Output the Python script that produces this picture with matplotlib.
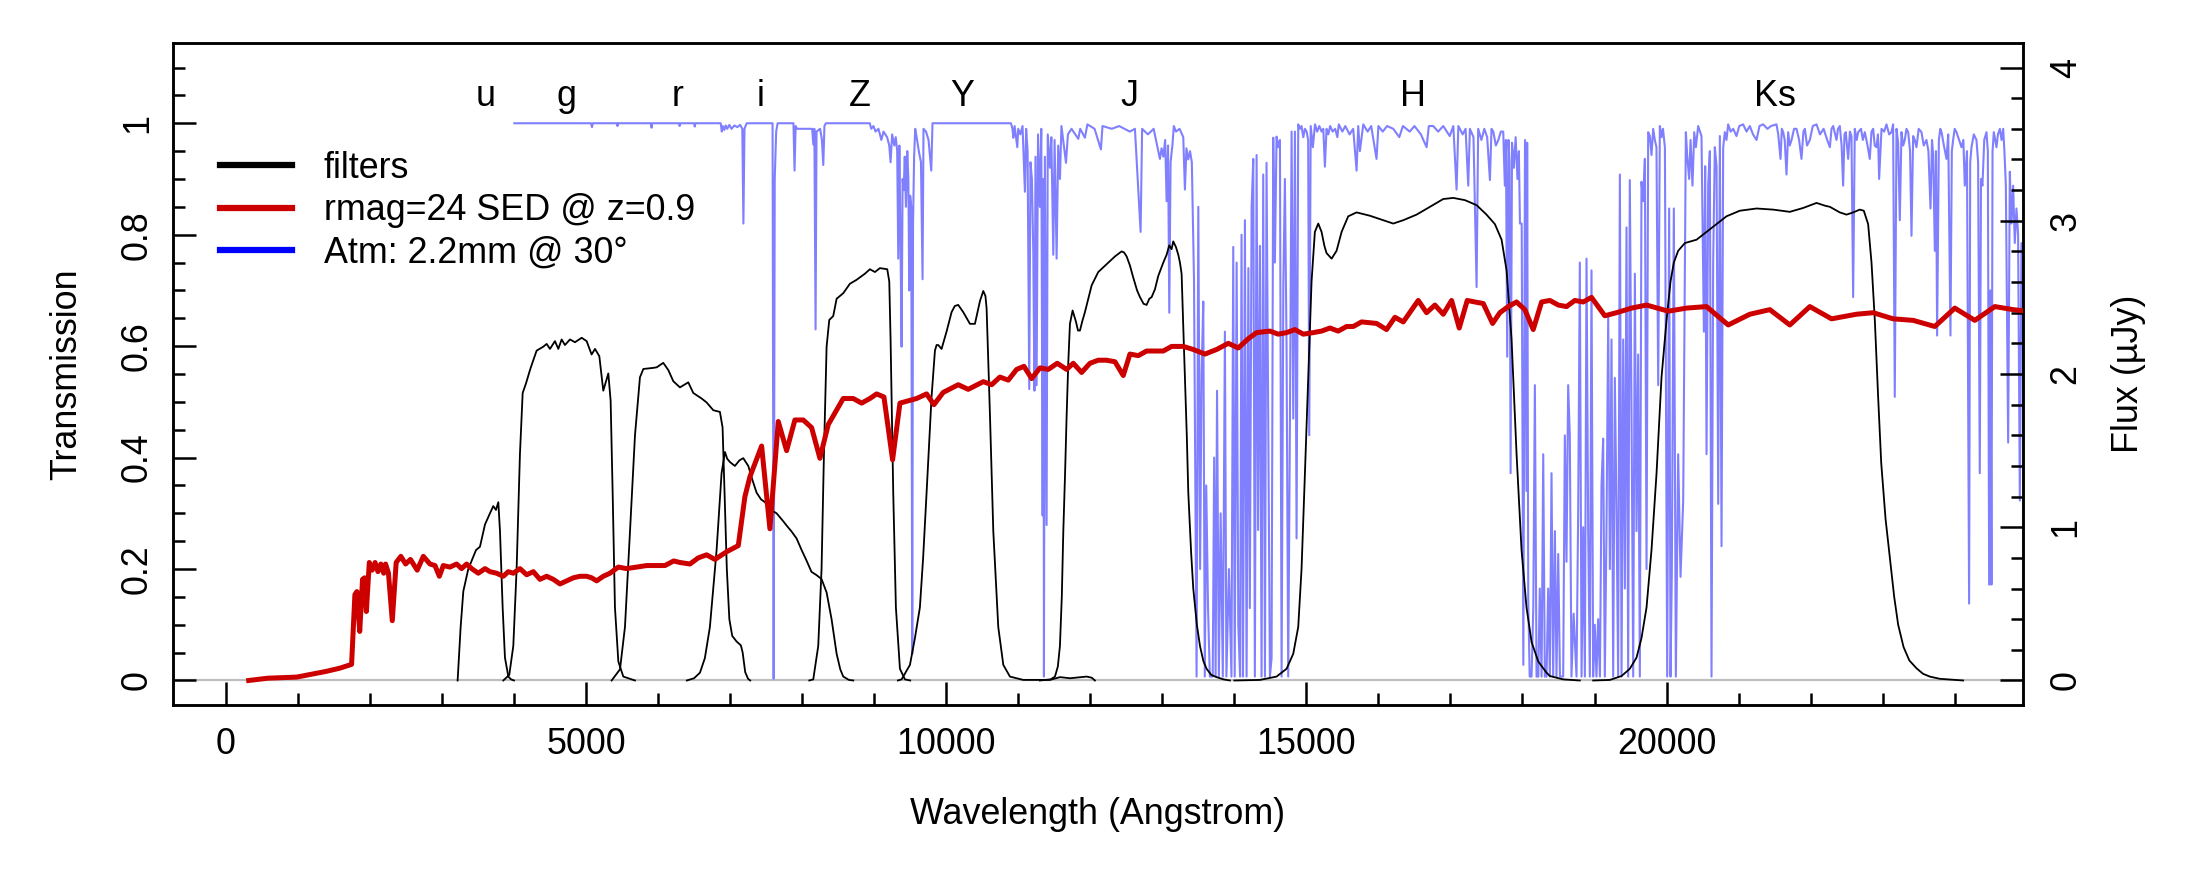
import matplotlib
matplotlib.use("Agg")
import matplotlib.pyplot as plt
from matplotlib.lines import Line2D
from matplotlib.ticker import MultipleLocator, FixedLocator

plt.rcParams['font.family'] = ['Liberation Sans', 'DejaVu Sans']

# ---------------- data (wavelength in Angstrom) ----------------
filt_u = [(3218, 0.0), (3260, 0.096), (3297, 0.16), (3366, 0.20), (3473, 0.234), (3528, 0.24),
          (3598, 0.28), (3667, 0.30), (3713, 0.313), (3750, 0.306), (3783, 0.32), (3806, 0.268),
          (3843, 0.131), (3875, 0.041), (3922, 0.007), (3960, 0.002), (4000, 0.0)]
filt_g = [(3852, 0.0), (3935, 0.01), (3991, 0.062), (4037, 0.2), (4083, 0.406), (4121, 0.516),
          (4167, 0.533), (4222, 0.557), (4269, 0.575), (4315, 0.592), (4407, 0.599), (4454, 0.604),
          (4500, 0.595), (4569, 0.609), (4616, 0.595), (4662, 0.612), (4708, 0.602), (4778, 0.612),
          (4847, 0.607), (4940, 0.615), (5009, 0.609), (5078, 0.585), (5125, 0.595), (5185, 0.582),
          (5240, 0.52), (5310, 0.551), (5342, 0.502), (5370, 0.337), (5402, 0.131), (5449, 0.034),
          (5518, 0.007), (5680, 0.0)]
filt_r = [(5356, 0.0), (5472, 0.02), (5541, 0.096), (5611, 0.268), (5680, 0.44), (5749, 0.544),
          (5796, 0.559), (5934, 0.561), (5981, 0.562), (6073, 0.57), (6143, 0.557), (6212, 0.537),
          (6304, 0.526), (6420, 0.535), (6489, 0.516), (6605, 0.506), (6674, 0.499), (6767, 0.485),
          (6859, 0.482), (6896, 0.454), (6925, 0.33), (6955, 0.2), (6990, 0.11), (7030, 0.08),
          (7090, 0.07), (7150, 0.063), (7175, 0.05), (7210, 0.015), (7250, 0.003), (7280, 0.0)]
filt_i = [(6400, 0.0), (6500, 0.004), (6582, 0.014), (6650, 0.04), (6720, 0.096), (6813, 0.234),
          (6882, 0.372), (6929, 0.41), (6960, 0.398), (6998, 0.392), (7067, 0.385), (7130, 0.395),
          (7183, 0.399), (7253, 0.385), (7310, 0.36), (7368, 0.337), (7430, 0.325), (7484, 0.32),
          (7579, 0.305), (7646, 0.30), (7743, 0.285), (7785, 0.278), (7850, 0.268), (7923, 0.255),
          (7990, 0.235), (8062, 0.215), (8130, 0.195), (8201, 0.189), (8270, 0.182), (8340, 0.158),
          (8409, 0.11), (8479, 0.048), (8530, 0.02), (8571, 0.007), (8650, 0.001), (8710, 0.0)]
filt_Z = [(8100, 0.0), (8155, 0.002), (8224, 0.062), (8270, 0.2), (8303, 0.406), (8340, 0.599),
          (8377, 0.647), (8432, 0.654), (8479, 0.685), (8571, 0.695), (8664, 0.712), (8756, 0.719),
          (8872, 0.73), (8941, 0.738), (9011, 0.733), (9080, 0.74), (9182, 0.738), (9210, 0.716),
          (9228, 0.613), (9265, 0.337), (9302, 0.131), (9358, 0.021), (9427, 0.002), (9500, 0.0)]
filt_Y = [(9330, 0.0), (9381, 0.002), (9497, 0.028), (9566, 0.076), (9635, 0.131), (9680, 0.22),
          (9728, 0.337), (9797, 0.509), (9844, 0.592), (9867, 0.602), (9890, 0.602), (9936, 0.595),
          (10005, 0.626), (10075, 0.661), (10120, 0.672), (10167, 0.674), (10237, 0.661),
          (10330, 0.64), (10399, 0.64), (10469, 0.681), (10515, 0.699), (10545, 0.69),
          (10561, 0.668), (10590, 0.55), (10608, 0.475), (10654, 0.268), (10723, 0.096),
          (10793, 0.028), (10885, 0.007), (11070, 0.001), (11440, 0.001), (11580, 0.006),
          (11720, 0.004), (11950, 0.007), (12020, 0.005), (12065, 0.0)]
filt_J = [(11300, 0.0), (11450, 0.002), (11510, 0.007), (11550, 0.025), (11579, 0.062),
          (11605, 0.15), (11626, 0.268), (11650, 0.37), (11672, 0.475), (11695, 0.57),
          (11718, 0.64), (11755, 0.664), (11801, 0.644), (11830, 0.628), (11857, 0.628),
          (11890, 0.645), (11926, 0.661), (12019, 0.709), (12111, 0.733), (12227, 0.747),
          (12343, 0.761), (12435, 0.77), (12470, 0.768), (12505, 0.761), (12550, 0.745),
          (12597, 0.723), (12650, 0.70), (12690, 0.688), (12740, 0.676), (12782, 0.674),
          (12820, 0.685), (12852, 0.688), (12898, 0.702), (12944, 0.726), (13014, 0.75),
          (13060, 0.764), (13097, 0.781), (13129, 0.774), (13152, 0.788), (13189, 0.778),
          (13222, 0.764), (13245, 0.75), (13268, 0.73), (13290, 0.64), (13314, 0.544),
          (13340, 0.44), (13361, 0.337), (13400, 0.23), (13430, 0.165), (13480, 0.10),
          (13523, 0.062), (13570, 0.035), (13615, 0.021), (13680, 0.01), (13754, 0.006),
          (13850, 0.002), (13939, 0.0)]
filt_H = [(14000, 0.0), (14355, 0.001), (14586, 0.007), (14725, 0.021), (14818, 0.048),
          (14887, 0.096), (14933, 0.2), (14980, 0.372), (15026, 0.544), (15072, 0.716),
          (15118, 0.805), (15165, 0.82), (15211, 0.805), (15250, 0.78), (15280, 0.767),
          (15350, 0.757), (15419, 0.771), (15489, 0.805), (15581, 0.833), (15697, 0.84),
          (15882, 0.834), (16067, 0.826), (16206, 0.82), (16345, 0.826), (16530, 0.836),
          (16715, 0.85), (16900, 0.864), (17039, 0.866), (17201, 0.862), (17363, 0.853),
          (17501, 0.836), (17617, 0.819), (17710, 0.791), (17779, 0.736), (17848, 0.613),
          (17918, 0.406), (17987, 0.234), (18056, 0.131), (18126, 0.069), (18219, 0.034),
          (18334, 0.014), (18380, 0.008), (18565, 0.002), (18796, 0.0)]
filt_Ks = [(18981, 0.0), (19213, 0.001), (19375, 0.008), (19490, 0.021), (19583, 0.041),
           (19652, 0.076), (19722, 0.131), (19791, 0.234), (19861, 0.372), (19930, 0.544),
           (20000, 0.647), (20055, 0.716), (20101, 0.75), (20161, 0.771), (20254, 0.785),
           (20416, 0.791), (20555, 0.805), (20694, 0.819), (20832, 0.833), (21017, 0.843),
           (21249, 0.847), (21480, 0.845), (21711, 0.841), (21897, 0.848), (22082, 0.857),
           (22200, 0.852), (22267, 0.85), (22405, 0.84), (22498, 0.836), (22590, 0.84),
           (22683, 0.845), (22738, 0.843), (22798, 0.819), (22845, 0.75), (22891, 0.647),
           (22937, 0.509), (22980, 0.39), (23040, 0.29), (23100, 0.22), (23160, 0.15),
           (23215, 0.10), (23290, 0.06), (23370, 0.036), (23469, 0.022), (23560, 0.012),
           (23654, 0.007), (23793, 0.003), (24117, 0.0)]
filters = [filt_u, filt_g, filt_r, filt_i, filt_Z, filt_Y, filt_J, filt_H, filt_Ks]

band_names = ['u', 'g', 'r', 'i', 'Z', 'Y', 'J', 'H', 'Ks']
band_label_wave = [3602, 4730, 6270, 7430, 8800, 10220, 12550, 16480, 21500]

# SED of rmag=24 galaxy at z=0.9 (flux in microJansky)
sed = [(318, 0.0), (584, 0.015), (982, 0.022), (1380, 0.058), (1580, 0.08), (1746, 0.105),
       (1792, 0.56), (1820, 0.58), (1859, 0.32), (1898, 0.66), (1925, 0.67), (1951, 0.45),
       (1992, 0.77), (2032, 0.72), (2072, 0.77), (2112, 0.71), (2152, 0.76), (2192, 0.70),
       (2218, 0.76), (2258, 0.70), (2311, 0.39), (2365, 0.77), (2430, 0.81), (2496, 0.76),
       (2563, 0.79), (2657, 0.72), (2742, 0.81), (2834, 0.76), (2904, 0.75), (2964, 0.68),
       (3019, 0.75), (3111, 0.74), (3204, 0.76), (3273, 0.73), (3343, 0.76), (3413, 0.73),
       (3505, 0.70), (3598, 0.73), (3667, 0.71), (3759, 0.70), (3852, 0.68), (3921, 0.71),
       (3991, 0.70), (4083, 0.73), (4176, 0.69), (4269, 0.71), (4361, 0.66), (4454, 0.68),
       (4546, 0.66), (4639, 0.63), (4731, 0.65), (4824, 0.67), (4916, 0.68), (5009, 0.68),
       (5078, 0.67), (5148, 0.65), (5240, 0.68), (5333, 0.70), (5449, 0.74), (5564, 0.73),
       (5703, 0.74), (5842, 0.75), (6096, 0.75), (6217, 0.78), (6304, 0.77), (6443, 0.76),
       (6558, 0.80), (6674, 0.82), (6790, 0.79), (6952, 0.84), (7114, 0.88), (7206, 1.20),
       (7276, 1.33), (7438, 1.53), (7553, 0.99), (7669, 1.69), (7785, 1.50), (7900, 1.70),
       (8016, 1.70), (8132, 1.65), (8247, 1.45), (8363, 1.67), (8571, 1.84), (8710, 1.84),
       (8826, 1.81), (8941, 1.84), (9034, 1.87), (9136, 1.85), (9256, 1.44), (9358, 1.81),
       (9589, 1.84), (9728, 1.87), (9830, 1.80), (9959, 1.88), (10167, 1.93), (10306, 1.90),
       (10515, 1.95), (10631, 1.93), (10746, 1.98), (10862, 1.96), (10978, 2.03), (11080, 2.05),
       (11186, 1.97), (11302, 2.04), (11417, 2.03), (11542, 2.07), (11672, 2.03), (11764, 2.07),
       (11880, 2.01), (11996, 2.07), (12111, 2.09), (12227, 2.09), (12343, 2.08), (12458, 1.99),
       (12551, 2.13), (12667, 2.12), (12782, 2.15), (13014, 2.15), (13129, 2.18), (13291, 2.18),
       (13430, 2.16), (13592, 2.13), (13754, 2.16), (13916, 2.20), (14055, 2.17), (14193, 2.23),
       (14309, 2.27), (14494, 2.28), (14609, 2.26), (14725, 2.27), (14841, 2.29), (14957, 2.26),
       (15095, 2.27), (15211, 2.28), (15327, 2.30), (15442, 2.28), (15558, 2.31), (15651, 2.31),
       (15766, 2.34), (15974, 2.33), (16113, 2.29), (16229, 2.37), (16345, 2.34), (16553, 2.48),
       (16669, 2.40), (16784, 2.45), (16900, 2.39), (17016, 2.48), (17122, 2.30), (17233, 2.48),
       (17339, 2.47), (17455, 2.46), (17585, 2.33), (17686, 2.40), (17802, 2.44), (17918, 2.47),
       (18033, 2.42), (18149, 2.29), (18265, 2.47), (18380, 2.48), (18496, 2.45), (18611, 2.44),
       (18727, 2.48), (18843, 2.47), (18958, 2.50), (19143, 2.38), (19305, 2.40), (19514, 2.43),
       (19722, 2.45), (20023, 2.41), (20277, 2.43), (20555, 2.44), (20856, 2.32), (21156, 2.39),
       (21434, 2.42), (21711, 2.32), (21989, 2.44), (22290, 2.36), (22636, 2.39), (22868, 2.40),
       (23145, 2.36), (23423, 2.35), (23724, 2.31), (24001, 2.43), (24279, 2.35), (24557, 2.44),
       (24811, 2.42), (25000, 2.41)]

# Atmospheric transmission (2.2 mm PWV at 30 deg)
atm_optical = [(4005, 1.0), (4600, 1.0), (5070, 1.0), (5083, 0.993), (5095, 1.0), (5430, 1.0),
               (5437, 0.995), (5445, 1.0), (5900, 1.0), (5910, 0.992), (5920, 1.0), (6290, 1.0),
               (6300, 0.995), (6310, 1.0), (6500, 1.0), (6510, 0.994), (6520, 1.0), (6870, 1.0),
               (6885, 0.985), (6900, 0.995), (6920, 0.988), (6940, 0.996), (6960, 0.99),
               (6990, 0.997), (7020, 0.99), (7060, 0.996), (7100, 0.993), (7140, 0.997),
               (7170, 0.99), (7185, 0.82), (7200, 0.99), (7230, 1.0), (7590, 1.0), (7605, 0.003),
               (7620, 0.9), (7640, 0.985), (7660, 1.0), (7880, 1.0), (7895, 0.915), (7910, 0.995),
               (7930, 0.99), (8140, 0.99), (8155, 0.962), (8170, 0.99), (8187, 0.63), (8200, 0.985),
               (8250, 0.99), (8275, 0.97), (8294, 0.925), (8310, 0.995), (8330, 1.0), (8940, 1.0),
               (8960, 0.99), (8990, 0.995), (9020, 0.985), (9060, 0.99), (9100, 0.97), (9130, 0.985),
               (9180, 0.975), (9210, 0.96), (9228, 0.93), (9250, 0.98), (9280, 0.96), (9300, 0.975),
               (9320, 0.95), (9335, 0.757), (9350, 0.96), (9365, 0.8), (9381, 0.599), (9395, 0.9),
               (9410, 0.88), (9425, 0.94), (9441, 0.85), (9460, 0.95), (9475, 0.9), (9487, 0.70),
               (9500, 0.87), (9515, 0.85), (9529, 0.048), (9540, 0.82), (9555, 0.94), (9570, 0.99),
               (9590, 0.975), (9620, 0.95), (9650, 0.93), (9672, 0.72), (9685, 0.99), (9720, 0.985),
               (9755, 0.97), (9793, 0.915), (9810, 1.0), (10900, 1.0)]
atm_yj = [(10920, 0.99), (10932, 0.974), (10950, 0.995), (10987, 0.957), (11000, 0.99),
          (11030, 0.98), (11060, 0.995), (11093, 0.877), (11110, 0.99), (11130, 0.95),
          (11153, 0.523), (11170, 0.93), (11190, 0.9), (11209, 0.77), (11225, 0.52), (11240, 0.94),
          (11255, 0.53), (11275, 0.98), (11300, 0.85), (11320, 0.99), (11339, 0.296), (11350, 0.9),
          (11357, 0.007), (11370, 0.94), (11394, 0.279), (11410, 0.98), (11440, 0.92),
          (11460, 0.975), (11487, 0.764), (11505, 0.97), (11533, 0.757), (11555, 0.96),
          (11579, 0.90), (11600, 0.995), (11663, 0.929), (11690, 0.98), (11740, 0.99),
          (11834, 0.972), (11860, 0.99), (11926, 0.974), (11960, 0.998), (12060, 0.99),
          (12148, 0.953), (12170, 0.995), (12300, 0.99), (12400, 0.995), (12550, 0.985),
          (12620, 0.99), (12699, 0.805), (12720, 0.99), (12800, 0.98), (12880, 0.99),
          (12967, 0.936), (12990, 0.955), (13014, 0.94), (13040, 0.97), (13060, 0.86),
          (13080, 0.96), (13097, 0.66), (13115, 0.93), (13140, 0.96), (13160, 0.995),
          (13190, 0.985), (13240, 0.99), (13291, 0.975), (13314, 0.881), (13335, 0.955),
          (13360, 0.935), (13385, 0.95), (13410, 0.93), (13440, 0.72)]
atm_jh = [(13476, 0.007), (13500, 0.85), (13525, 0.2), (13545, 0.55), (13569, 0.68), (13590, 0.007),
          (13610, 0.35), (13635, 0.13), (13660, 0.007), (13700, 0.007), (13720, 0.4), (13740, 0.007),
          (13760, 0.52), (13785, 0.007), (13810, 0.3), (13840, 0.007), (13869, 0.626),
          (13890, 0.007), (13925, 0.2), (13960, 0.007), (13985, 0.778), (14005, 0.007),
          (14032, 0.75), (14055, 0.1), (14080, 0.007), (14100, 0.8), (14120, 0.007), (14147, 0.826),
          (14170, 0.007), (14195, 0.74), (14215, 0.13), (14240, 0.85), (14263, 0.936),
          (14285, 0.007), (14309, 0.943), (14330, 0.27), (14355, 0.78), (14378, 0.007),
          (14401, 0.908), (14425, 0.007), (14447, 0.929), (14471, 0.47), (14494, 0.007),
          (14517, 0.04), (14540, 0.974), (14563, 0.75), (14586, 0.976), (14610, 0.957),
          (14633, 0.97), (14656, 0.007), (14680, 0.71), (14702, 0.9), (14725, 0.6), (14748, 0.007),
          (14771, 0.45), (14795, 0.985), (14818, 0.47), (14841, 0.985), (14864, 0.255),
          (14887, 0.998)]
atm_h = [(14910, 0.99), (14933, 0.995), (14957, 0.975), (14980, 0.99), (15003, 0.985),
         (15025, 0.97), (15040, 0.44), (15060, 0.995), (15090, 0.957), (15120, 0.998),
         (15150, 0.985), (15180, 0.995), (15211, 0.985), (15235, 0.99), (15257, 0.922),
         (15280, 0.99), (15305, 0.98), (15330, 0.995), (15365, 0.985), (15400, 0.99),
         (15430, 0.975), (15450, 0.998), (15500, 0.985), (15540, 0.995), (15600, 0.98),
         (15650, 0.99), (15697, 0.915), (15720, 0.995), (15743, 0.95), (15790, 0.998),
         (15850, 0.985), (15900, 0.995), (15974, 0.936), (16000, 0.995), (16060, 0.985),
         (16120, 0.995), (16206, 0.99), (16290, 0.975), (16340, 0.995), (16435, 0.985),
         (16500, 0.995), (16590, 0.98), (16669, 0.957), (16700, 0.995), (16760, 0.995),
         (16830, 0.985), (16900, 0.995), (16990, 0.977), (17040, 0.995), (17085, 0.881),
         (17110, 0.995), (17170, 0.98), (17210, 0.99), (17247, 0.888), (17270, 0.99),
         (17320, 0.975), (17363, 0.706), (17385, 0.99), (17430, 0.97), (17470, 0.99),
         (17510, 0.975), (17548, 0.898), (17570, 0.99), (17595, 0.985), (17630, 0.96),
         (17665, 0.97), (17700, 0.985), (17733, 0.985), (17755, 0.888), (17770, 0.97),
         (17788, 0.581), (17805, 0.97), (17820, 0.93), (17835, 0.372), (17855, 0.965),
         (17880, 0.92), (17905, 0.975), (17930, 0.9), (17950, 0.95), (17965, 0.82), (17989, 0.82)]
atm_hk = [(18012, 0.028), (18035, 0.97), (18056, 0.34), (18065, 0.965), (18080, 0.145),
          (18100, 0.007), (18126, 0.007), (18150, 0.13), (18172, 0.53), (18195, 0.007),
          (18220, 0.007), (18240, 0.165), (18265, 0.007), (18288, 0.406), (18310, 0.007),
          (18334, 0.007), (18357, 0.165), (18380, 0.007), (18403, 0.372), (18426, 0.007),
          (18450, 0.268), (18472, 0.007), (18496, 0.227), (18520, 0.007), (18565, 0.007),
          (18588, 0.44), (18611, 0.213), (18634, 0.53), (18657, 0.44), (18680, 0.007),
          (18710, 0.12), (18750, 0.007), (18773, 0.3), (18796, 0.75), (18820, 0.007),
          (18843, 0.275), (18866, 0.007), (18889, 0.757), (18912, 0.268), (18935, 0.007),
          (18958, 0.736), (18981, 0.007), (19004, 0.1), (19027, 0.007), (19050, 0.11),
          (19075, 0.007), (19097, 0.35), (19120, 0.434), (19143, 0.007), (19166, 0.268),
          (19190, 0.654), (19213, 0.2), (19236, 0.612), (19259, 0.007), (19282, 0.543),
          (19305, 0.309), (19328, 0.007), (19352, 0.908), (19375, 0.007), (19398, 0.612),
          (19421, 0.165), (19444, 0.813), (19467, 0.007), (19490, 0.898), (19514, 0.475),
          (19537, 0.007), (19560, 0.73), (19583, 0.268), (19606, 0.585), (19629, 0.007),
          (19652, 0.895), (19675, 0.86), (19699, 0.936), (19722, 0.2), (19745, 0.984),
          (19768, 0.977), (19791, 0.943), (19814, 0.99), (19837, 0.97), (19860, 0.957),
          (19884, 0.53), (19907, 0.995), (19930, 0.975), (19950, 0.99), (19977, 0.957),
          (20009, 0.007), (20036, 0.847), (20055, 0.007), (20073, 0.193), (20101, 0.847),
          (20129, 0.007), (20161, 0.406), (20194, 0.186), (20231, 0.323), (20268, 0.984),
          (20286, 0.943), (20314, 0.9), (20333, 0.97), (20360, 0.888), (20384, 0.984),
          (20407, 0.957), (20439, 0.995), (20485, 0.977), (20518, 0.626), (20536, 0.923),
          (20555, 0.406), (20578, 0.888), (20601, 0.95), (20624, 0.007), (20647, 0.75),
          (20670, 0.957), (20694, 0.923), (20717, 0.317), (20740, 0.977), (20763, 0.241),
          (20786, 0.957), (20809, 0.984)]
atm_k = [(20832, 0.97), (20855, 0.998), (20890, 0.985), (20925, 0.99), (20971, 0.977),
         (21010, 0.995), (21063, 0.998), (21110, 0.985), (21156, 0.995), (21200, 0.98),
         (21249, 0.97), (21290, 0.995), (21341, 0.998), (21400, 0.99), (21450, 0.995),
         (21526, 0.998), (21550, 0.98), (21582, 0.936), (21600, 0.99), (21619, 0.984),
         (21640, 0.97), (21665, 0.908), (21688, 0.984), (21710, 0.96), (21735, 0.97),
         (21770, 0.99), (21804, 0.99), (21840, 0.97), (21873, 0.936), (21900, 0.985),
         (21920, 0.99), (21950, 0.96), (21989, 0.97), (22030, 0.995), (22082, 0.998),
         (22130, 0.98), (22180, 0.99), (22230, 0.97), (22267, 0.957), (22290, 0.99),
         (22313, 0.995), (22359, 0.97), (22380, 0.99), (22405, 0.995), (22430, 0.96),
         (22451, 0.888), (22470, 0.98), (22488, 0.984), (22521, 0.936), (22545, 0.985),
         (22567, 0.977), (22590, 0.688), (22613, 0.99), (22640, 0.97), (22660, 0.984),
         (22700, 0.99), (22725, 0.97), (22752, 0.984), (22790, 0.96), (22821, 0.936),
         (22845, 0.985), (22868, 0.99), (22890, 0.96), (22914, 0.957), (22935, 0.98),
         (22951, 0.90), (22984, 0.99), (23020, 0.985), (23053, 0.998), (23090, 0.98),
         (23122, 0.984), (23145, 0.998), (23168, 0.509), (23192, 0.99), (23215, 0.965),
         (23238, 0.826), (23261, 0.984), (23285, 0.96), (23307, 0.97), (23330, 0.99),
         (23354, 0.984), (23380, 0.95), (23400, 0.798), (23423, 0.977), (23445, 0.97),
         (23469, 0.957), (23500, 0.99), (23539, 0.984), (23570, 0.96), (23608, 0.97),
         (23635, 0.95), (23664, 0.847), (23685, 0.97), (23701, 0.943), (23724, 0.771),
         (23740, 0.95), (23756, 0.619), (23780, 0.97), (23800, 0.99), (23817, 0.984),
         (23850, 0.96), (23886, 0.936), (23910, 0.98), (23941, 0.619), (23960, 0.95),
         (23978, 0.97), (24000, 0.99), (24025, 0.984), (24060, 0.97), (24094, 0.957),
         (24120, 0.97), (24140, 0.888), (24170, 0.95), (24200, 0.138), (24215, 0.93),
         (24233, 0.957), (24265, 0.98), (24302, 0.97), (24325, 0.93), (24348, 0.372),
         (24365, 0.9), (24385, 0.888), (24410, 0.97), (24441, 0.984), (24460, 0.95),
         (24478, 0.172), (24495, 0.7), (24510, 0.172), (24525, 0.95), (24543, 0.984),
         (24580, 0.957), (24600, 0.98), (24627, 0.99), (24650, 0.97), (24673, 0.99),
         (24690, 0.95), (24710, 0.888), (24742, 0.427), (24765, 0.913), (24788, 0.82),
         (24811, 0.888), (24834, 0.785), (24857, 0.847), (24880, 0.8), (24904, 0.323),
         (24927, 0.785), (24950, 0.6), (24980, 0.3), (25010, 0.8)]
atm_segments = [atm_optical, atm_yj, atm_jh, atm_h, atm_hk, atm_k]

legend_labels = ['filters', 'rmag=24 SED @ z=0.9', 'Atm: 2.2mm @ 30\u00b0']

# ---------------- figure ----------------
FS = 25.8
W, H = 2200, 880
L, R, T, B = 173, 2023, 43, 705

fig = plt.figure(figsize=(22, 8.8), dpi=100)
ax = fig.add_axes([L / W, 1 - B / H, (R - L) / W, (B - T) / H])
ax.set_xlim(-733, 24948)
ax.set_ylim(-0.044, 1.144)

ax.axhline(0, color='#BEBEBE', lw=1.6, zorder=1)

atm_pts = [p for seg in atm_segments for p in seg]
ax.plot([p[0] for p in atm_pts], [p[1] for p in atm_pts], color='#8080FF', lw=1.5, zorder=2)

for f in filters:
    ax.plot([p[0] for p in f], [p[1] for p in f], color='black', lw=1.3, zorder=3)

for name, wl in zip(band_names, band_label_wave):
    ax.text(wl, 1.031, name, ha='center', va='baseline', fontsize=FS, zorder=4)

# axes styling
for s in ax.spines.values():
    s.set_linewidth(1.8)
ax.xaxis.set_major_locator(FixedLocator([0, 5000, 10000, 15000, 20000]))
ax.xaxis.set_minor_locator(MultipleLocator(1000))
ax.yaxis.set_major_locator(FixedLocator([0, 0.2, 0.4, 0.6, 0.8, 1.0]))
ax.yaxis.set_minor_locator(MultipleLocator(0.05))
ax.set_yticklabels(['0', '0.2', '0.4', '0.6', '0.8', '1'])
ax.set_xticklabels(['0', '5000', '10000', '15000', '20000'])
ax.tick_params(which='both', direction='in', width=1.8, top=False, right=False, labelsize=FS)
ax.tick_params(which='major', length=16.5)
ax.tick_params(which='minor', length=8.5)
ax.tick_params(axis='x', pad=16)
ax.tick_params(axis='y', pad=13)
for lab in ax.get_yticklabels():
    lab.set_rotation(90)
    lab.set_va('center')
    lab.set_ha('right')

# right axis with SED
ax2 = ax.twinx()
ax2.set_ylim(-0.16, 4.16)
ax2.plot([p[0] for p in sed], [p[1] for p in sed], color='#CD0000', lw=3.6, zorder=5,
         solid_joinstyle='round')
ax2.yaxis.set_major_locator(FixedLocator([0, 1, 2, 3, 4]))
ax2.yaxis.set_minor_locator(MultipleLocator(0.2))
ax2.set_yticklabels(['0', '1', '2', '3', '4'])
ax2.tick_params(axis='y', which='both', direction='in', width=1.8, labelsize=FS, pad=18.5)
ax2.tick_params(axis='y', which='major', length=16.5)
ax2.tick_params(axis='y', which='minor', length=8.5)
for s in ax2.spines.values():
    s.set_linewidth(1.8)
for lab in ax2.get_yticklabels():
    lab.set_rotation(90)
    lab.set_va('center')
    lab.set_ha('left')

# axis titles
fig.text(67 / W, 1 - 374 / H, 'Transmission', rotation=90, ha='center', va='center', fontsize=FS)
fig.text(2129 / W, 1 - 374 / H, 'Flux (\u00b5Jy)', rotation=90, ha='center', va='center', fontsize=FS)
fig.text(1098 / W, 1 - 814 / H, 'Wavelength (Angstrom)', ha='center', va='center', fontsize=FS)

# legend
handles = [Line2D([], [], color='black', lw=4.5),
           Line2D([], [], color='#CD0000', lw=4.5),
           Line2D([], [], color='#0000FF', lw=4.5)]
leg = ax2.legend(handles, legend_labels, loc='upper left',
                 bbox_to_anchor=((220 - L) / (R - L), 1 - (151 - T) / (B - T)),
                 frameon=False, fontsize=FS, borderpad=0, borderaxespad=0,
                 handlelength=2.0, handletextpad=0.9, labelspacing=0.2)

fig.savefig('out.png', dpi=100)
